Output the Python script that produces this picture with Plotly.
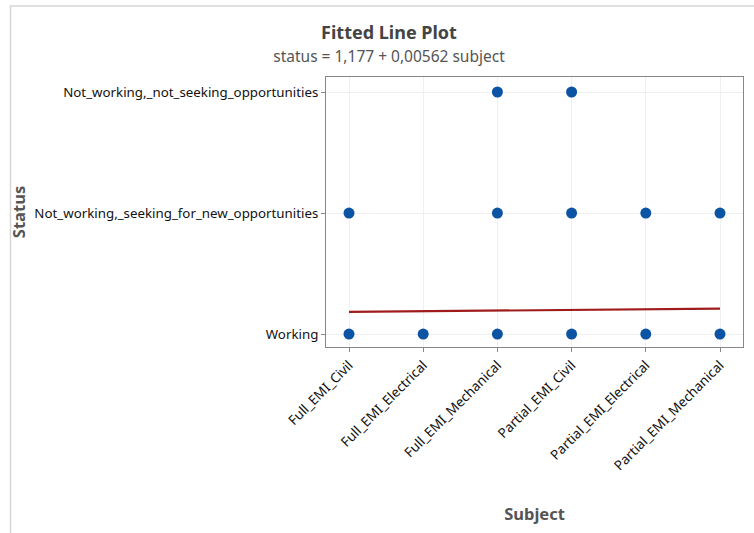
import plotly.graph_objects as go

subjects = ["Full_EMI_Civil", "Full_EMI_Electrical", "Full_EMI_Mechanical",
            "Partial_EMI_Civil", "Partial_EMI_Electrical", "Partial_EMI_Mechanical"]
status_labels = ["Working", "Not_working,_seeking_for_new_opportunities",
                 "Not_working,_not_seeking_opportunities"]

# observed (subject, status) pairs: subject coded 1..6, status coded 1..3
obs_subject = [1, 1, 2, 3, 3, 3, 4, 4, 4, 5, 5, 6, 6]
obs_status = [1, 2, 1, 1, 2, 3, 1, 2, 3, 1, 2, 1, 2]

intercept = 1.177
slope = 0.00562
fit_x = [1, 6]
fit_y = [intercept + slope * v for v in fit_x]

fig = go.Figure()
fig.add_trace(go.Scatter(x=obs_subject, y=obs_status, mode="markers",
                         marker=dict(size=11, color="#0B54A4"),
                         showlegend=False, hoverinfo="x+y"))
fig.add_trace(go.Scatter(x=fit_x, y=fit_y, mode="lines",
                         line=dict(color="#A01C1C", width=2.2),
                         showlegend=False))

font_family = "Noto Sans, Open Sans, sans-serif"
L, R, T, B = 326, 11, 77, 186
W, H = 754, 533
pw, ph = W - L - R, H - T - B

fig.update_layout(
    width=W, height=H,
    margin=dict(l=L, r=R, t=T, b=B, autoexpand=False),
    paper_bgcolor="white", plot_bgcolor="white",
    font=dict(family=font_family, color="#222"),
    title=dict(text="<b>Fitted Line Plot</b><br><span style='font-size:15.5px;color:#555'>status = 1,177 + 0,00562 subject</span>",
               x=389 / W, xanchor="center", y=1 - 39 / H, yanchor="top",
               font=dict(size=18, color="#444", family=font_family)),
    xaxis=dict(tickmode="array", tickvals=list(range(1, 7)), ticktext=subjects,
               range=[0.69, 6.31], tickangle=-45, showgrid=True, gridcolor="#f0f0f0",
               zeroline=False, showline=True, linecolor="#888", mirror=True,
               ticks="outside", ticklen=4, tickcolor="#888", automargin=False,
               tickfont=dict(size=13.5, color="#111"),
               title=dict(text="<b>Subject</b>", font=dict(size=16.5, color="#555"), standoff=35)),
    yaxis=dict(tickmode="array", tickvals=[1, 2, 3], ticktext=status_labels,
               range=[0.893, 3.124], showgrid=True, gridcolor="#f0f0f0",
               zeroline=False, showline=True, linecolor="#888", mirror=True,
               ticks="outside", ticklen=4, tickcolor="#888", automargin=False,
               tickfont=dict(size=13.3, color="#111"),
               title=dict(text="<b>Status</b>", font=dict(size=16.5, color="#555"), standoff=4)),
    shapes=[
        dict(type="line", xref="paper", yref="paper",
             x0=(10.5 - L) / pw, x1=(10.5 - L) / pw,
             y0=(H - B - 6) / ph, y1=(H - B - H) / ph,
             line=dict(color="#d6d6d6", width=1.5)),
        dict(type="line", xref="paper", yref="paper",
             x0=(10 - L) / pw, x1=(W - L) / pw,
             y0=(H - B - 6) / ph, y1=(H - B - 6) / ph,
             line=dict(color="#d6d6d6", width=1.5)),
    ],
)

fig.write_html("out.html", config={"displayModeBar": False},
               post_script="document.body.style.margin='0';")
